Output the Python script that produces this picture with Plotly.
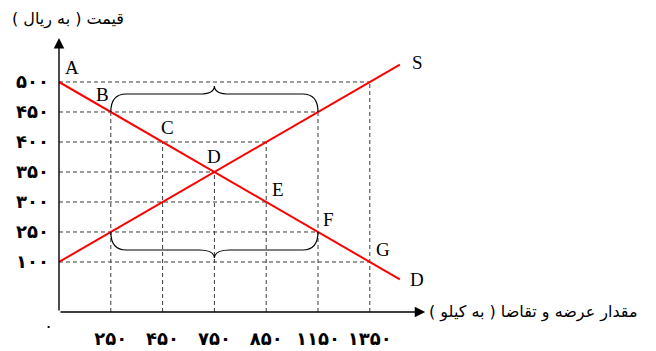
"""Supply and demand chart with Persian labels."""

import plotly.graph_objects as go

# Quantity (kg) and price (rial) levels
QUANTITIES = [0, 250, 450, 750, 850, 1150, 1350]
PRICES = [100, 250, 300, 350, 400, 450, 500]

# Demand and supply prices at each quantity
DEMAND = [500, 450, 400, 350, 300, 250, 100]
SUPPLY = [100, 250, 300, 350, 400, 450, 500]
POINT_LABELS = ["A", "B", "C", "D", "E", "F", "G"]

Y_TITLE = "قیمت ( به ریال )"
X_TITLE = "مقدار عرضه و تقاضا ( به کیلو )"

FA_DIGITS = str.maketrans("0123456789", "۰۱۲۳۴۵۶۷۸۹")
RED = "#ff0000"
GRID = "#3a3a3a"
TEXT_FONT = "DejaVu Sans"
LETTER_FONT = "Liberation Serif"


def fa(n):
    return str(n).translate(FA_DIGITS)


# the axes are evenly spaced by rank, not by value
qx = {q: i for i, q in enumerate(QUANTITIES)}
py = {p: i + 1 for i, p in enumerate(PRICES)}

dx = [qx[q] for q in QUANTITIES]
dy = [py[p] for p in DEMAND]
sy = [py[p] for p in SUPPLY]

# extend both lines a little past the last point
EXT = 0.58
dx_ext = dx + [dx[-1] + EXT * (dx[-1] - dx[-2])]
dy_ext = dy + [dy[-1] + EXT * (dy[-1] - dy[-2])]
sy_ext = sy + [sy[-1] + EXT * (sy[-1] - sy[-2])]

Y0 = -0.667  # level of the quantity axis

fig = go.Figure()

# dashed guides: each one runs to the farther of the two curves
hx, hy = [], []
for lvl in range(1, len(PRICES) + 1):
    reach = max(x for x, d, s in zip(dx, dy, sy) if d == lvl or s == lvl)
    hx += [0, reach, None]
    hy += [lvl, lvl, None]
vx, vy = [], []
for x, d, s in zip(dx[1:], dy[1:], sy[1:]):
    vx += [x, x, None]
    vy += [Y0, max(d, s), None]

fig.add_trace(go.Scatter(x=hx + vx, y=hy + vy, mode="lines",
                         line=dict(color=GRID, width=1, dash="4px,3px"),
                         hoverinfo="skip", showlegend=False))

fig.add_trace(go.Scatter(x=dx_ext, y=dy_ext, mode="lines", name="D",
                         line=dict(color=RED, width=2), showlegend=False))
fig.add_trace(go.Scatter(x=dx_ext, y=sy_ext, mode="lines", name="S",
                         line=dict(color=RED, width=2), showlegend=False))

# letters on the demand curve
letter_font = dict(family=LETTER_FONT, size=19, color="black")
offsets = [(13, 14), (-8, 17), (5, 14), (0, 15), (12, 12), (10, 12), (13, 12)]
for lab, x, y, (ox, oy) in zip(POINT_LABELS, dx, dy, offsets):
    fig.add_annotation(x=x, y=y, text=lab, showarrow=False, xshift=ox, yshift=oy,
                       font=letter_font)
fig.add_annotation(x=dx_ext[-1], y=sy_ext[-1], text="S", showarrow=False,
                   xshift=18, yshift=2, font=letter_font)
fig.add_annotation(x=dx_ext[-1], y=dy_ext[-1], text="D", showarrow=False,
                   xshift=17, yshift=0, font=letter_font)


def brace(x0, x1, y, d, h=0.6, tip=0.27, w=0.3):
    xm = (x0 + x1) / 2
    yb = y + d * h
    yt = yb + d * tip
    return (f"M {x0},{y} Q {x0},{yb} {x0 + w},{yb} L {xm - w},{yb} "
            f"Q {xm},{yb} {xm},{yt} Q {xm},{yb} {xm + w},{yb} "
            f"L {x1 - w},{yb} Q {x1},{yb} {x1},{y}")


# braces over the surplus at 450 and the shortage at 250
b_i = POINT_LABELS.index("B")
f_i = POINT_LABELS.index("F")
fig.add_shape(type="path", path=brace(dx[b_i], dx[f_i], dy[b_i], 1),
              line=dict(color="black", width=1.2))
fig.add_shape(type="path", path=brace(dx[b_i], dx[f_i], dy[f_i], -1),
              line=dict(color="black", width=1.2))

# axes drawn as arrows
arrow = dict(xref="x", yref="y", axref="x", ayref="y", showarrow=True,
             arrowhead=2, arrowsize=1.5, arrowwidth=1.4, arrowcolor="black", text="")
fig.add_annotation(x=0, y=8.47, ax=0, ay=Y0, **arrow)
fig.add_annotation(x=7.07, y=Y0, ax=0, ay=Y0, **arrow)

text_font = dict(family=TEXT_FONT, size=16, color="black")
fig.add_annotation(x=0, y=Y0, text=fa(0), showarrow=False, xshift=-11,
                   yshift=-14, font=dict(family=TEXT_FONT, size=17, color="black"))
fig.add_annotation(x=0, y=8.47, text=Y_TITLE, showarrow=False, xshift=9,
                   yshift=19, font=text_font)
fig.add_annotation(x=7.07, y=Y0, text=X_TITLE, showarrow=False,
                   xanchor="left", xshift=2, font=text_font)

# the page body adds an 8px offset, so the figure is 8px smaller each way
tick_font = dict(family=TEXT_FONT, size=18, color="black", weight="bold")
fig.update_layout(
    template="none",
    width=648, height=343,
    margin=dict(l=51, r=216, t=22, b=39),
    plot_bgcolor="white", paper_bgcolor="white",
    font=dict(color="black"),
    showlegend=False,
    xaxis=dict(range=[0, 7.355], showgrid=False, zeroline=False, showline=False,
               automargin=False,
               tickvals=dx[1:], ticktext=[fa(q) for q in QUANTITIES[1:]],
               ticks="", ticklabelstandoff=14, tickfont=tick_font),
    yaxis=dict(range=[Y0, 8.733], showgrid=False, zeroline=False, showline=False,
               automargin=False,
               tickvals=[py[p] for p in PRICES], ticktext=[fa(p) for p in PRICES],
               ticks="", ticklabelstandoff=9, tickfont=tick_font),
)

fig.write_html("out.html")
